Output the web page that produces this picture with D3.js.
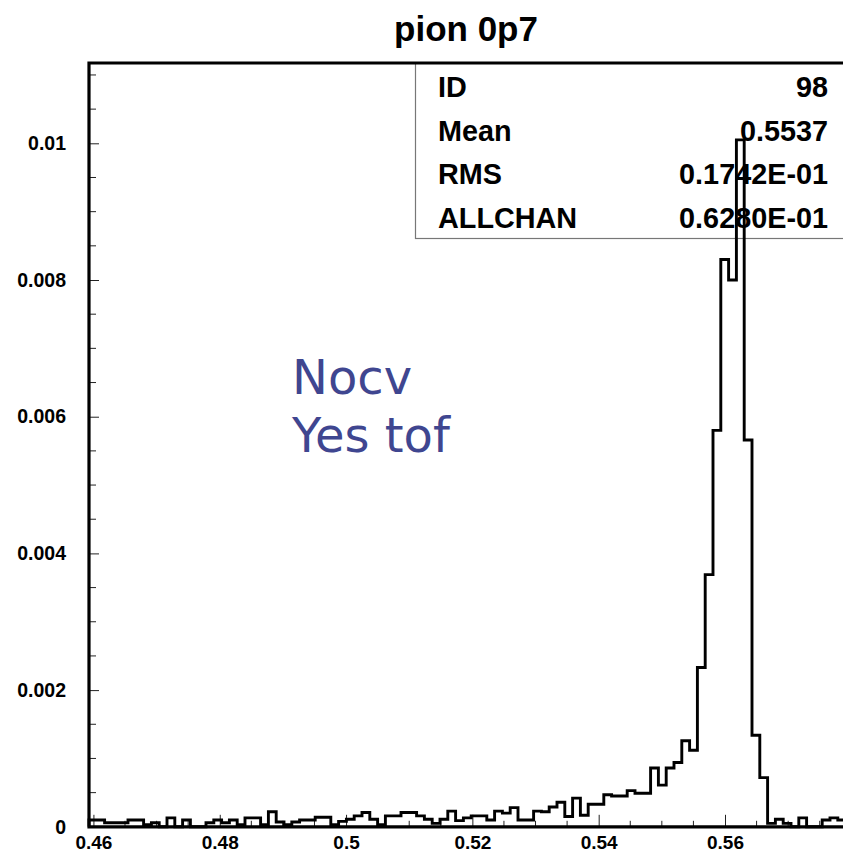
<!DOCTYPE html>
<html>
<head>
<meta charset="utf-8">
<script src="https://cdn.jsdelivr.net/npm/d3@7"></script>
<style>
  html, body { margin: 0; padding: 0; background: #ffffff; }
  svg { display: block; }
</style>
</head>
<body>
<script>
// ---- data -----------------------------------------------------------
const chartTitle = "pion 0p7";

// histogram binning: first bin low edge and bin width
const binLow = 0.4593;
const binWidth = 0.001235;
const binCount = 100;

// bin contents (normalised), one value per bin
const binValues = [
  0.00010, 0.00010, 0.00006, 0.00006, 0.00006, 0.00010, 0.00010, 0.00003, 0.00006, 0.00000,
  0.00013, 0.00000, 0.00010, 0.00000, 0.00000, 0.00006, 0.00010, 0.00006, 0.00010, 0.00003,
  0.00013, 0.00013, 0.00003, 0.00022, 0.00007, 0.00003, 0.00007, 0.00010, 0.00010, 0.00014,
  0.00014, 0.00003, 0.00008, 0.00011, 0.00016, 0.00021, 0.00011, 0.00003, 0.00016, 0.00016,
  0.00021, 0.00021, 0.00016, 0.00011, 0.00005, 0.00011, 0.00023, 0.00009, 0.00013, 0.00016,
  0.00016, 0.00010, 0.00023, 0.00020, 0.00028, 0.00010, 0.00010, 0.00023, 0.00022, 0.00029,
  0.00036, 0.00015, 0.00042, 0.00017, 0.00033, 0.00033, 0.00047, 0.00045, 0.00045, 0.00053,
  0.00049, 0.00049, 0.00086, 0.00061, 0.00086, 0.00094, 0.00126, 0.00112, 0.00233, 0.00369,
  0.00580, 0.00830, 0.00800, 0.01005, 0.00566, 0.00134, 0.00072, 0.00005, 0.00011, 0.00005,
  0.00000, 0.00013, 0.00000, 0.00000, 0.00010, 0.00013, 0.00010, 0.00010, 0.00000, 0.00000
];

const yMax = 0.011175;
const yMajorTicks = [0, 0.002, 0.004, 0.006, 0.008, 0.01];
const yTickLabels = ["0", "0.002", "0.004", "0.006", "0.008", "0.01"];
const yMinorStep = 0.0005;

const xMajorTicks = [0.46, 0.48, 0.5, 0.52, 0.54, 0.56];
const xTickLabels = ["0.46", "0.48", "0.5", "0.52", "0.54", "0.56"];
const xMinorStep = 0.005;

const statLabels = ["ID", "Mean", "RMS", "ALLCHAN"];
const statValues = ["98", "0.5537", "0.1742E-01", "0.6280E-01"];

const noteLines = ["Nocv", "Yes tof"];

// ---- layout ---------------------------------------------------------
const W = 843, H = 857;
const frame = { left: 89, top: 63, bottom: 826.8, right: 869 };

const svg = d3.select("body").append("svg")
  .attr("width", W).attr("height", H)
  .style("font-family", "'Liberation Sans', Arial, Helvetica, sans-serif");

const x = d3.scaleLinear()
  .domain([binLow, binLow + binCount * binWidth])
  .range([frame.left, frame.right]);

const y = d3.scaleLinear()
  .domain([0, yMax])
  .range([frame.bottom, frame.top]);

// title
svg.append("text")
  .attr("x", 466).attr("y", 41)
  .attr("text-anchor", "middle")
  .attr("font-weight", "bold")
  .attr("font-size", 35)
  .attr("fill", "#000")
  .text(chartTitle);

// statistics box (under the histogram line)
const statBox = svg.append("g");
statBox.append("rect")
  .attr("x", 415.5).attr("y", frame.top)
  .attr("width", 500).attr("height", 238 - frame.top + 0.5)
  .attr("fill", "#fff")
  .attr("stroke", "#777").attr("stroke-width", 1.2);

statLabels.forEach((lab, i) => {
  const by = 97 + i * 43.7;
  statBox.append("text")
    .attr("x", 438).attr("y", by)
    .attr("font-weight", "bold").attr("font-size", 28.8)
    .attr("fill", "#000")
    .text(lab);
  statBox.append("text")
    .attr("x", 828).attr("y", by)
    .attr("text-anchor", "end")
    .attr("font-weight", "bold").attr("font-size", 28.8)
    .attr("fill", "#000")
    .text(statValues[i]);
});

// minor ticks
const yMinor = d3.range(0, yMax + 1e-9, yMinorStep).filter(v => !yMajorTicks.some(t => Math.abs(t - v) < 1e-9));
svg.append("g").selectAll("line").data(yMinor).join("line")
  .attr("x1", frame.left).attr("x2", frame.left + 7)
  .attr("y1", d => y(d)).attr("y2", d => y(d))
  .attr("stroke", "#222").attr("stroke-width", 1);

const xMinor = d3.range(0.46, x.domain()[1], xMinorStep).filter(v => !xMajorTicks.some(t => Math.abs(t - v) < 1e-9));
svg.append("g").selectAll("line").data(xMinor).join("line")
  .attr("x1", d => x(d)).attr("x2", d => x(d))
  .attr("y1", frame.bottom).attr("y2", frame.bottom - 6)
  .attr("stroke", "#222").attr("stroke-width", 1);

// major axes
const yAxis = d3.axisLeft(y)
  .tickValues(yMajorTicks)
  .tickFormat((d, i) => yTickLabels[i])
  .tickSize(-10)
  .tickPadding(23);
const gy = svg.append("g")
  .attr("transform", `translate(${frame.left},0)`)
  .call(yAxis);
gy.select(".domain").remove();
gy.selectAll(".tick line").attr("stroke", "#222").attr("stroke-width", 1);
gy.selectAll(".tick text")
  .attr("font-family", "'Liberation Sans', Arial, sans-serif")
  .attr("font-weight", "bold").attr("font-size", 19.5).attr("fill", "#000");

const xAxis = d3.axisBottom(x)
  .tickValues(xMajorTicks)
  .tickFormat((d, i) => xTickLabels[i])
  .tickSize(-12)
  .tickPadding(9);
const gx = svg.append("g")
  .attr("transform", `translate(0,${frame.bottom})`)
  .call(xAxis);
gx.select(".domain").remove();
gx.selectAll(".tick line").attr("stroke", "#222").attr("stroke-width", 1);
gx.selectAll(".tick text")
  .attr("font-family", "'Liberation Sans', Arial, sans-serif")
  .attr("font-weight", "bold").attr("font-size", 19).attr("fill", "#000");

// histogram outline
const pts = [[x(binLow), y(0)]];
binValues.forEach((v, i) => {
  const lo = binLow + i * binWidth, hi = lo + binWidth;
  pts.push([x(lo), y(v)], [x(hi), y(v)]);
});
pts.push([x(binLow + binCount * binWidth), y(0)]);

svg.append("path")
  .attr("d", d3.line()(pts))
  .attr("fill", "none")
  .attr("stroke", "#000")
  .attr("stroke-width", 2.9)
  .attr("stroke-linejoin", "miter");

// frame
svg.append("path")
  .attr("d", `M${frame.right + 5},${frame.top} H${frame.left} V${frame.bottom} H${frame.right + 5}`)
  .attr("fill", "none")
  .attr("stroke", "#000")
  .attr("stroke-width", 3.2);

// handwritten note
const note = svg.append("text")
  .attr("font-family", "'DejaVu Sans', sans-serif")
  .attr("font-size", 48)
  .attr("fill", "#3f4690");
noteLines.forEach((t, i) => {
  note.append("tspan")
    .attr("x", 292).attr("y", 394 + i * 58)
    .text(t);
});
</script>
</body>
</html>
